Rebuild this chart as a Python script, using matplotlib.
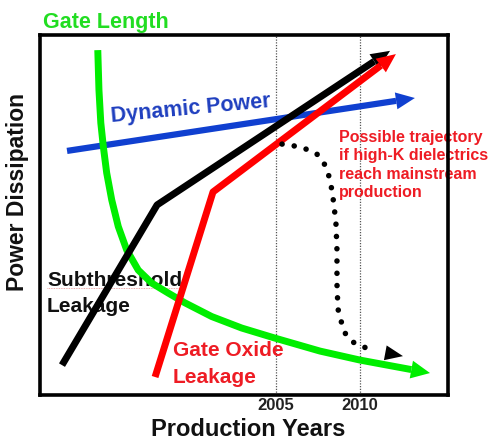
import numpy as np
import matplotlib
matplotlib.use('Agg')
import matplotlib.pyplot as plt
from matplotlib.lines import Line2D

plt.rcParams['font.family'] = ['Liberation Sans', 'DejaVu Sans']

# ---------------- data (x: production year, y: relative power, 0-100) ----------------
tick_years = [2005, 2010]
tick_labels = ['2005', '2010']

gate_length_x = [1994.39, 1994.46, 1994.57, 1994.72, 1994.92, 1995.22, 1995.61,
                 1996.11, 1996.80, 1997.60, 1998.59, 1999.58, 2001.17, 2002.96,
                 2004.94, 2007.62, 2010.00, 2014.17]
gate_length_y = [95.8, 84.7, 75.6, 69.0, 61.7, 54.2, 46.8,
                 40.3, 34.7, 31.1, 28.3, 25.6, 21.8, 18.6,
                 15.8, 12.2, 9.7, 6.1]

subthreshold_x = [1992.26, 1997.92, 2011.79]
subthreshold_y = [8.3, 52.8, 95.6]

gate_oxide_x = [1997.80, 2001.25, 2012.14]
gate_oxide_y = [5.0, 56.4, 94.7]

dynamic_x = [1992.56, 2013.27]
dynamic_y = [67.8, 82.5]

highk_x = [2005.36, 2006.07, 2006.79, 2007.44, 2007.86, 2008.15, 2008.33, 2008.45,
           2008.57, 2008.63, 2008.63, 2008.69, 2008.87, 2009.11, 2009.58, 2010.24,
           2010.95, 2012.56]
highk_y = [69.7, 69.2, 68.3, 66.9, 64.4, 60.8, 56.9, 52.8,
           47.5, 40.3, 30.8, 23.9, 20.6, 17.2, 14.7, 13.3,
           12.2, 10.8]

W, H = 492, 442
fig = plt.figure(figsize=(W / 100, H / 100), dpi=100)
ax = fig.add_axes([40 / W, 1 - 395 / H, 408 / W, 360 / H])
ax.set_xlim(1990.95, 2015.24)
ax.set_ylim(0, 100)

for s in ax.spines.values():
    s.set_linewidth(2.6)
    s.set_color('black')
ax.set_yticks([])
ax.set_xticks(tick_years)
ax.set_xticklabels(tick_labels, fontsize=12, fontweight='bold', color='#222222')
ax.tick_params(axis='x', length=0, pad=2.5)

for yr in tick_years:
    ax.axvline(yr, color='#555555', lw=0.9, ls=(0, (1, 1.2)), zorder=1)


def arrow_line(xs, ys, color, lw, L, Wd, dotted=False, z=3):
    T = ax.transData
    p = T.transform(np.column_stack([xs, ys]))
    tip, prev = p[-1], p[-2]
    u = (tip - prev) / np.linalg.norm(tip - prev)
    n = np.array([-u[1], u[0]])
    base = tip - L * u
    tri = np.array([tip, base + Wd / 2 * n, base - Wd / 2 * n])
    tri_d = T.inverted().transform(tri)
    base_d = T.inverted().transform(base)
    if dotted:
        ax.plot(xs[:-1], ys[:-1], color=color, lw=lw, ls=(0, (0.01, 2.2)),
                dash_capstyle='round', zorder=z)
    else:
        lx = list(xs[:-1]) + [base_d[0]]
        ly = list(ys[:-1]) + [base_d[1]]
        ax.plot(lx, ly, color=color, lw=lw, solid_capstyle='butt',
                solid_joinstyle='round', zorder=z)
    ax.fill(tri_d[:, 0], tri_d[:, 1], color=color, lw=0, zorder=z)


arrow_line(dynamic_x, dynamic_y, '#1040d0', 4.5, 19, 17, z=3)
arrow_line(gate_length_x, gate_length_y, '#00ee00', 5.0, 19, 18, z=4)
arrow_line(subthreshold_x, subthreshold_y, '#000000', 5.0, 19, 17, z=5)
arrow_line(gate_oxide_x, gate_oxide_y, '#ff0000', 5.0, 19, 17, z=6)
arrow_line(highk_x, highk_y, '#000000', 4.0, 18, 15, dotted=True, z=6)

bold = dict(fontweight='bold')
fig.text(43 / W, 1 - 28 / H, 'Gate Length', color='#22dd22', fontsize=15.5,
         ha='left', va='baseline', **bold)
fig.text(112 / W, 1 - 122 / H, 'Dynamic Power', color='#1f3fbf', fontsize=15.5,
         ha='left', va='baseline', rotation=5.4, rotation_mode='anchor', **bold)
ax.text(339 / W, 1 - 197 / H,
        'Possible trajectory\nif high-K dielectrics\nreach mainstream\nproduction',
        transform=fig.transFigure, clip_on=False, zorder=2,
        color='#ee1c24', fontsize=11.5, ha='left', va='baseline', linespacing=1.28, **bold)
ax.text(47 / W, 1 - 312 / H, 'Subthreshold\nLeakage', transform=fig.transFigure,
        zorder=2, color='#111111', fontsize=15,
        ha='left', va='baseline', linespacing=1.46, **bold)
ax.add_line(Line2D([47 / W, 183 / W], [1 - 288 / H, 1 - 288 / H], color='#e06060',
                   transform=fig.transFigure, lw=0.6, ls=(0, (1, 1)), alpha=0.7, zorder=2))
ax.text(173 / W, 1 - 383 / H, 'Gate Oxide\nLeakage', transform=fig.transFigure,
        zorder=2, color='#ee1c24', fontsize=15,
        ha='left', va='baseline', linespacing=1.5, **bold)
fig.text(248 / W, 1 - 430 / H, 'Production Years', color='#111111', fontsize=17,
         ha='center', va='center', **bold)
fig.text(17.5 / W, 1 - 192 / H, 'Power Dissipation', color='#111111', fontsize=16.5,
         ha='center', va='center', rotation=90, **bold)

fig.savefig('out.png', dpi=100)
